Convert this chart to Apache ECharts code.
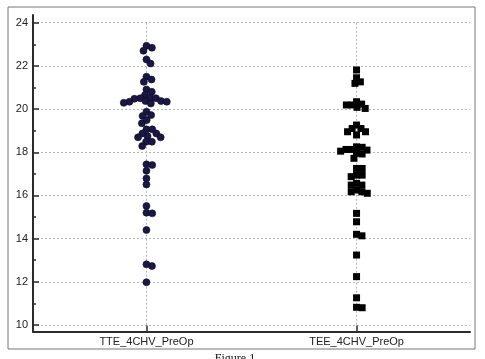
<!DOCTYPE html>
<html>
<head>
<meta charset="utf-8">
<script src="https://cdn.jsdelivr.net/npm/echarts@6/dist/echarts.min.js"></script>
<style>
  html, body { margin: 0; padding: 0; background: #fff; }
  #main { width: 485px; height: 359px; }
</style>
</head>
<body>
<div id="main"></div>
<script>
// categories (x positions 1 and 2)
const categories = ['TTE_4CHV_PreOp', 'TEE_4CHV_PreOp'];

// values
const tteValues = [
  22.93, 22.84, 22.70, 22.30, 22.11, 21.50, 21.37, 21.26, 20.91, 20.80,
  20.65, 20.53, 20.50, 20.50, 20.48, 20.37, 20.37, 20.34, 20.34, 20.29, 20.26,
  19.88, 19.72, 19.68, 19.49, 19.34,
  19.06, 19.06, 18.87, 18.87, 18.75, 18.69, 18.69, 18.49, 18.49, 18.29,
  17.44, 17.41, 17.14, 16.79, 16.51, 15.51, 15.20, 15.17, 14.40, 12.81, 12.73, 11.98
];
const teeValues = [
  21.81, 21.45, 21.26, 21.19, 20.34, 20.23, 20.19, 20.19, 20.08, 20.03,
  19.26, 19.10, 19.10, 18.95, 18.95, 18.80,
  18.25, 18.23, 18.13, 18.13, 18.10, 18.05, 17.95, 17.92, 17.72,
  17.25, 17.25, 16.94, 16.94, 16.87, 16.56, 16.48, 16.48, 16.25, 16.17, 16.17, 16.10,
  15.17, 14.78, 14.20, 14.13, 13.24, 12.24, 11.26, 10.82, 10.80
];
const yMin = 10, yMax = 24, yStep = 2;

const axisColor = '#2b2b2b';
const gridColor = '#b4b4b4';
const labelFont = { fontFamily: 'Liberation Sans', fontSize: 11, color: '#222' };

const chart = echarts.init(document.getElementById('main'));

chart.setOption({
  animation: false,
  grid: [
    { left: 33, right: 15, top: 22.7, bottom: 34 },
    { left: 33, right: 15, top: 15, bottom: 27.5 }
  ],
  xAxis: [
    {
      gridIndex: 0, type: 'value', min: 0.46, max: 2.54,
      axisLine: { show: false },
      axisLabel: { show: false },
      axisTick: { show: false, customValues: [1, 2] },
      splitLine: { show: true, lineStyle: { color: gridColor, type: [2, 2], width: 1 } }
    },
    {
      gridIndex: 1, type: 'value', min: 0.46, max: 2.54,
      axisLine: { show: true, onZero: false, lineStyle: { color: axisColor, width: 2 } },
      axisTick: { show: true, inside: true, length: 6, customValues: [1, 2], lineStyle: { color: axisColor, width: 1.5 } },
      axisLabel: Object.assign({ customValues: [1, 2], margin: 5,
        formatter: v => categories[Math.round(v) - 1] }, labelFont),
      splitLine: { show: false }
    }
  ],
  yAxis: [
    {
      gridIndex: 0, type: 'value', min: yMin, max: yMax, interval: yStep,
      axisLine: { show: false },
      axisTick: { show: true, inside: true, length: 6, lineStyle: { color: axisColor, width: 1.5 } },
      minorTick: { show: true, splitNumber: 2, length: 3, lineStyle: { color: axisColor, width: 1.5 } },
      axisLabel: Object.assign({ margin: 5 }, labelFont),
      splitLine: { show: true, lineStyle: { color: gridColor, type: [2, 2], width: 1 } }
    },
    {
      gridIndex: 1, type: 'value', min: 0, max: 1,
      axisLine: { show: true, onZero: false, lineStyle: { color: axisColor, width: 2 } },
      axisTick: { show: false }, axisLabel: { show: false }, splitLine: { show: false }
    }
  ],
  graphic: [
    { type: 'rect', shape: { x: 8, y: 7, width: 467, height: 342 },
      style: { fill: 'none', stroke: '#777', lineWidth: 1 }, silent: true },
    { type: 'text', x: 235, y: 353,
      style: { text: 'Figure 1', font: '12px "Liberation Serif"', fill: '#111', textAlign: 'center' } }
  ],
  series: [
    { type: 'scatter', xAxisIndex: 0, yAxisIndex: 0, symbol: 'circle', symbolSize: 7,
      itemStyle: { color: '#1b1745', borderColor: '#0a0a20', borderWidth: 0.6, opacity: 1 },
      data: tteValues.map(v => [1, v]) },
    { type: 'scatter', xAxisIndex: 0, yAxisIndex: 0, symbol: 'rect', symbolSize: 7,
      itemStyle: { color: '#000', opacity: 1 },
      data: teeValues.map(v => [2, v]) }
  ]
});

// simple beeswarm: push overlapping points sideways, in pixels
function swarmOffsets(pys, dia) {
  const order = pys.map((y, i) => i).sort((a, b) => pys[a] - pys[b]);
  const placed = [];
  const out = new Array(pys.length);
  order.forEach(i => {
    const y = pys[i];
    const near = placed.filter(p => Math.abs(p.y - y) < dia);
    const cands = [0];
    near.forEach(p => {
      const dx = Math.sqrt(dia * dia - (p.y - y) * (p.y - y));
      cands.push(p.x + dx, p.x - dx);
    });
    cands.sort((a, b) => Math.abs(a) - Math.abs(b));
    const x = cands.find(c => near.every(p => (p.x - c) ** 2 + (p.y - y) ** 2 >= dia * dia - 0.01));
    placed.push({ x: x, y: y });
    out[i] = x;
  });
  return out;
}

function swarmData(values, xc, dia) {
  const cpx = chart.convertToPixel({ gridIndex: 0 }, [xc, values[0]])[0];
  const pys = values.map(v => chart.convertToPixel({ gridIndex: 0 }, [xc, v])[1]);
  const offs = swarmOffsets(pys, dia);
  return values.map((v, i) => [chart.convertFromPixel({ gridIndex: 0 }, [cpx + offs[i], pys[i]])[0], v]);
}

chart.setOption({
  series: [
    { data: swarmData(tteValues, 1, 5.8) },
    { data: swarmData(teeValues, 2, 5.6) }
  ]
});
</script>
</body>
</html>
